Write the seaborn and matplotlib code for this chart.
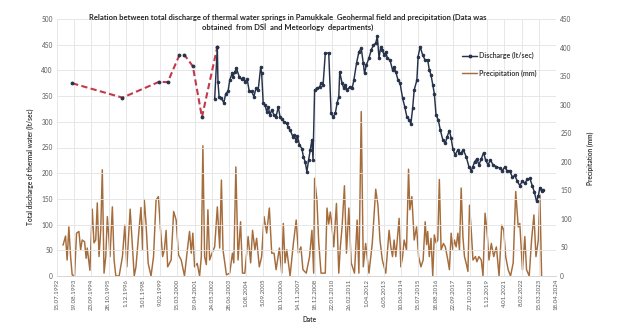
import matplotlib
matplotlib.use("Agg")
import matplotlib.pyplot as plt
from matplotlib.lines import Line2D
import numpy as np
import pandas as pd
import seaborn as sns
from datetime import datetime

# ---------------------------------------------------------------- data
date_labels = [
    "15.07.1992", "19.08.1993", "23.09.1994", "28.10.1995", "1.12.1996",
    "5.01.1998", "9.02.1999", "15.03.2000", "19.04.2001", "24.05.2002",
    "28.06.2003", "1.08.2004", "5.09.2005", "10.10.2006", "14.11.2007",
    "18.12.2008", "22.01.2010", "26.02.2011", "1.04.2012", "6.05.2013",
    "10.06.2014", "15.07.2015", "18.08.2016", "22.09.2017", "27.10.2018",
    "1.12.2019", "4.01.2021", "8.02.2022", "15.03.2023", "18.04.2024",
]

# sparse early discharge measurements (decimal year, lt/sec)
early_years = [1993.50, 1996.70, 1999.05, 1999.58, 2000.33, 2000.65,
               2001.18, 2001.76, 2002.74]
early_discharge = [375, 347, 378, 377, 430, 430, 408, 309, 446]

# regular discharge record (decimal year, lt/sec)
discharge_years = [
    2002.57, 2002.74, 2002.78, 2002.85, 2003.00, 2003.15, 2003.28, 2003.42,
    2003.53, 2003.68, 2003.74, 2003.85, 2003.96, 2004.13, 2004.28, 2004.38,
    2004.49, 2004.64, 2004.77, 2004.92, 2005.07, 2005.20, 2005.34, 2005.50,
    2005.56, 2005.66, 2005.77, 2005.88, 2005.98, 2006.09, 2006.20, 2006.35,
    2006.48, 2006.62, 2006.73, 2006.84, 2006.99, 2007.16, 2007.26, 2007.37,
    2007.55, 2007.63, 2007.76, 2007.84, 2007.97, 2008.12, 2008.22, 2008.33,
    2008.44, 2008.55, 2008.65, 2008.76, 2008.83, 2008.93, 2009.08, 2009.25,
    2009.34, 2009.47, 2009.61, 2009.83, 2009.98, 2010.11, 2010.25, 2010.36,
    2010.47, 2010.53, 2010.68, 2010.79, 2010.89, 2011.00, 2011.17, 2011.32,
    2011.43, 2011.60, 2011.75, 2011.90, 2012.03, 2012.11, 2012.22, 2012.39,
    2012.54, 2012.67, 2012.82, 2012.92, 2013.03, 2013.14, 2013.24, 2013.35,
    2013.46, 2013.56, 2013.73, 2013.89, 2013.99, 2014.10, 2014.24, 2014.37,
    2014.53, 2014.67, 2014.80, 2014.95, 2015.06, 2015.17, 2015.27, 2015.44,
    2015.52, 2015.65, 2015.81, 2015.95, 2016.13, 2016.23, 2016.34, 2016.45,
    2016.55, 2016.66, 2016.80, 2016.93, 2017.09, 2017.25, 2017.36, 2017.51,
    2017.62, 2017.73, 2017.87, 2018.05, 2018.15, 2018.26, 2018.40, 2018.58,
    2018.75, 2018.90, 2019.01, 2019.11, 2019.26, 2019.39, 2019.54, 2019.69,
    2019.81, 2019.97, 2020.12, 2020.29, 2020.50, 2020.71, 2020.88, 2021.03,
    2021.18, 2021.35, 2021.52, 2021.67, 2021.82, 2021.99, 2022.16, 2022.31,
    2022.46, 2022.63, 2022.79, 2022.91, 2023.06, 2023.17, 2023.27, 2023.38,
    2023.49,
]
discharge = [
    344, 446, 378, 349, 346, 337, 355, 359,
    381, 394, 388, 397, 404, 388, 383, 385,
    378, 383, 359, 359, 349, 365, 362, 407,
    394, 336, 333, 320, 329, 313, 323, 313,
    310, 329, 310, 305, 300, 297, 289, 284,
    271, 274, 262, 272, 255, 248, 232, 222,
    203, 226, 245, 265, 226, 362, 365, 368,
    375, 372, 433, 434, 317, 309, 317, 336,
    349, 397, 375, 365, 372, 362, 368, 365,
    381, 414, 436, 443, 414, 394, 410, 424,
    440, 449, 453, 466, 424, 446, 440, 430,
    436, 424, 420, 401, 407, 397, 381, 375,
    346, 329, 310, 304, 296, 326, 362, 381,
    427, 446, 430, 421, 420, 401, 391, 372,
    355, 313, 304, 284, 265, 258, 271, 283,
    268, 247, 236, 245, 239, 240, 245, 232,
    213, 205, 213, 222, 228, 216, 228, 240,
    226, 216, 226, 216, 213, 210, 205, 212,
    205, 205, 192, 196, 185, 176, 185, 180,
    188, 190, 175, 164, 145, 156, 172, 165,
    168,
]

# precipitation record (decimal year, mm)
precip_years = [
    1992.92, 1993.08, 1993.18, 1993.29, 1993.40, 1993.50, 1993.65, 1993.78,
    1993.93, 1994.04, 1994.14, 1994.29, 1994.39, 1994.46, 1994.57, 1994.63,
    1994.78, 1994.89, 1995.00, 1995.10, 1995.21, 1995.32, 1995.42, 1995.53,
    1995.64, 1995.74, 1995.85, 1995.91, 1996.06, 1996.17, 1996.28, 1996.49,
    1996.70, 1996.85, 1996.98, 1997.19, 1997.34, 1997.45, 1997.56, 1997.77,
    1997.88, 1997.98, 1998.09, 1998.20, 1998.34, 1998.52, 1998.68, 1998.84,
    1998.99, 1999.11, 1999.26, 1999.37, 1999.48, 1999.58, 1999.80, 1999.96,
    2000.12, 2000.27, 2000.44, 2000.65, 2000.82, 2000.97, 2001.08, 2001.18,
    2001.29, 2001.46, 2001.61, 2001.72, 2001.82, 2001.93, 2002.04, 2002.14,
    2002.25, 2002.40, 2002.57, 2002.74, 2002.89, 2003.00, 2003.10, 2003.32,
    2003.53, 2003.70, 2003.79, 2003.92, 2004.06, 2004.22, 2004.34, 2004.49,
    2004.70, 2004.86, 2004.98, 2005.13, 2005.24, 2005.41, 2005.56, 2005.71,
    2005.88, 2006.05, 2006.20, 2006.35, 2006.48, 2006.69, 2006.84, 2006.94,
    2007.05, 2007.16, 2007.37, 2007.58, 2007.76, 2007.90, 2008.06, 2008.19,
    2008.40, 2008.61, 2008.76, 2008.87, 2008.93, 2009.08, 2009.19, 2009.34,
    2009.61, 2009.72, 2009.83, 2009.93, 2010.04, 2010.15, 2010.32, 2010.47,
    2010.57, 2010.68, 2010.83, 2010.96, 2011.11, 2011.26, 2011.47, 2011.64,
    2011.75, 2011.90, 2012.03, 2012.18, 2012.39, 2012.60, 2012.82, 2012.96,
    2013.09, 2013.24, 2013.46, 2013.67, 2013.78, 2013.89, 2013.99, 2014.10,
    2014.31, 2014.42, 2014.53, 2014.63, 2014.78, 2014.91, 2014.99, 2015.12,
    2015.27, 2015.42, 2015.55, 2015.70, 2015.84, 2015.97, 2016.06, 2016.13,
    2016.23, 2016.34, 2016.45, 2016.55, 2016.66, 2016.77, 2016.87, 2016.98,
    2017.13, 2017.25, 2017.41, 2017.51, 2017.62, 2017.73, 2017.83, 2017.94,
    2018.05, 2018.15, 2018.26, 2018.37, 2018.47, 2018.58, 2018.69, 2018.79,
    2018.90, 2019.01, 2019.17, 2019.26, 2019.39, 2019.54, 2019.65, 2019.78,
    2019.90, 2020.03, 2020.18, 2020.33, 2020.50, 2020.67, 2020.84, 2020.97,
    2021.09, 2021.25, 2021.40, 2021.57, 2021.73, 2021.89, 2021.99, 2022.16,
    2022.31, 2022.42, 2022.59, 2022.74, 2022.89, 2023.02, 2023.17, 2023.27,
    2023.38,
]
precip = [
    54, 70, 28, 86, 34, 2, 0, 75,
    78, 46, 63, 60, 31, 49, 23, 10,
    117, 58, 63, 128, 34, 80, 186, 5,
    34, 104, 63, 34, 121, 28, 0, 0,
    34, 89, 16, 117, 51, 0, 16, 86,
    120, 46, 134, 92, 22, 0, 34, 133,
    139, 86, 34, 46, 80, 16, 28, 113,
    98, 37, 28, 0, 43, 78, 40, 75,
    16, 22, 0, 34, 228, 34, 20, 116,
    28, 40, 51, 121, 49, 168, 46, 2,
    5, 40, 23, 191, 28, 95, 5, 5,
    69, 23, 80, 46, 66, 16, 34, 104,
    75, 119, 40, 40, 11, 49, 5, 92,
    23, 46, 0, 57, 98, 40, 51, 11,
    5, 34, 80, 5, 171, 132, 60, 5,
    5, 119, 91, 112, 86, 51, 127, 5,
    51, 86, 158, 40, 119, 23, 5, 98,
    5, 288, 16, 57, 5, 57, 152, 124,
    63, 28, 5, 80, 51, 34, 63, 34,
    101, 16, 34, 63, 46, 187, 116, 139,
    63, 86, 34, 16, 28, 95, 55, 78,
    34, 66, 0, 72, 58, 63, 169, 46,
    57, 51, 28, 11, 75, 46, 63, 51,
    75, 46, 154, 69, 34, 22, 8, 124,
    80, 28, 34, 25, 34, 28, 0, 110,
    80, 28, 57, 34, 51, 0, 89, 80,
    34, 11, 0, 23, 148, 86, 92, 11,
    69, 11, 0, 63, 107, 34, 63, 142,
    0,
]


def to_date(y):
    """Convert a decimal year into a datetime."""
    year = int(y)
    start, end = datetime(year, 1, 1), datetime(year + 1, 1, 1)
    return start + (end - start) * (y - year)


def parse_label(s):
    d, m, y = s.split(".")
    return datetime(int(y), int(m), int(d))


early_df = pd.DataFrame({"date": [to_date(y) for y in early_years],
                         "value": early_discharge})
dis_df = pd.DataFrame({"date": [to_date(y) for y in discharge_years],
                       "value": discharge})
pre_df = pd.DataFrame({"date": [to_date(y) for y in precip_years],
                       "value": precip})
tick_dates = [parse_label(s) for s in date_labels]

# ---------------------------------------------------------------- style
sns.set_theme(style="white")
plt.rcParams["font.family"] = ["Lato", "DejaVu Sans"]

TICK_C = "#595959"
TEXT_C = "#3a3a3a"
GRID_C = "#e3e3e3"
NAVY = "#25324a"
BROWN = "#a56c3c"
RED = "#c23a4a"

fig = plt.figure(figsize=(6.2, 3.3), dpi=100)
ax = fig.add_axes([57 / 620, 1 - 276 / 330, (556 - 57) / 620, (276 - 19) / 330])
ax2 = ax.twinx()

# precipitation on the secondary axis
sns.lineplot(data=pre_df, x="date", y="value", ax=ax2, color=BROWN,
             linewidth=1.05, legend=False)

# discharge on the primary axis
sns.lineplot(data=early_df, x="date", y="value", ax=ax, color=RED,
             linewidth=1.5, linestyle=(0, (3.0, 1.6)), marker="o",
             markersize=2.0, markerfacecolor=NAVY, markeredgecolor=NAVY,
             legend=False)
sns.lineplot(data=dis_df, x="date", y="value", ax=ax, color=NAVY,
             linewidth=1.05, marker="o", markersize=1.8,
             markerfacecolor=NAVY, markeredgecolor=NAVY, legend=False)

ax.set_zorder(ax2.get_zorder() + 1)
ax.patch.set_visible(False)

# axes limits and ticks
ax.set_xlim(tick_dates[0], tick_dates[-1])
ax.set_ylim(0, 500)
ax.set_yticks(np.arange(0, 501, 50))
ax2.set_ylim(0, 450)
ax2.set_yticks(np.arange(0, 451, 50))
ax.set_xticks(tick_dates)
ax.set_xticklabels(date_labels, rotation=90)

ax.grid(True, color=GRID_C, linewidth=0.6)
ax2.grid(False)
for a in (ax, ax2):
    for s in a.spines.values():
        s.set_visible(False)
    a.tick_params(length=0, colors=TICK_C, labelsize=4.7, pad=3)
ax.tick_params(axis="x", labelsize=4.4, pad=2)
ax.spines["bottom"].set_visible(True)
ax.spines["bottom"].set_color("#d0d0d0")
ax.spines["bottom"].set_linewidth(0.6)

ax.set_xlabel("")
ax.set_ylabel("")
ax2.set_ylabel("")

# titles
fig.text(288 / 620, 1 - 14 / 330,
         "Relation between total discharge of thermal water springs in Pamukkale  "
         "Geohermal field and precipitation (Data was\n"
         "obtained  from DSİ  and Meteorlogy  departments)",
         ha="center", va="top", fontsize=5.5, fontweight="bold",
         color="#262626", linespacing=1.4)
fig.text(30 / 620, 1 - 167 / 330, "Total discharge of thermal water (lt/sec)",
         rotation=90, ha="center", va="center", fontsize=4.7,
         fontweight="bold", color=TEXT_C)
fig.text(590 / 620, 1 - 158 / 330, "Precipitation (mm)",
         rotation=90, ha="center", va="center", fontsize=4.7,
         fontweight="bold", color=TEXT_C)
fig.text(310 / 620, 1 - 320 / 330, "Date", ha="center", va="center",
         fontsize=4.7, fontweight="bold", color=TEXT_C)

handles = [
    Line2D([], [], color=NAVY, linewidth=1.05, marker="o", markersize=1.8),
    Line2D([], [], color=BROWN, linewidth=1.05),
]
leg = ax.legend(handles, ["Discharge (lt/sec)", "Precipitation (mm)"],
                loc="upper left", bbox_to_anchor=(0.805, 0.885), frameon=False,
                prop={"size": 5.0, "weight": "bold"}, handlelength=2.2,
                handletextpad=0.2, labelspacing=1.5, borderpad=0)
for t in leg.get_texts():
    t.set_color(TEXT_C)

fig.savefig("out.png", dpi=100, facecolor="white")
